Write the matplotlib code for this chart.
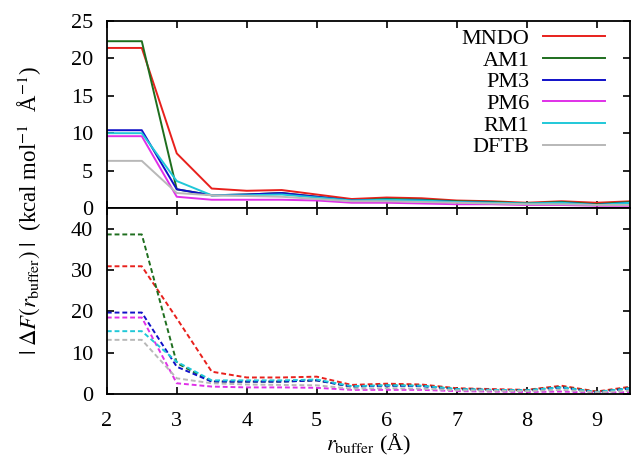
import matplotlib
matplotlib.use("Agg")
import matplotlib.pyplot as plt

plt.rcParams["font.family"] = ["Liberation Serif", "DejaVu Serif"]
plt.rcParams["mathtext.fontset"] = "stix"
plt.rcParams["font.size"] = 16

# r_buffer values (Å)
r_buffer = [2.0, 2.5, 3.0, 3.5, 4.0, 4.5, 5.0, 5.5, 6.0, 6.5, 7.0, 7.5, 8.0, 8.5, 9.0, 9.5]
metody = ["MNDO", "AM1", "PM3", "PM6", "RM1", "DFTB"]
barvy = ["#e8201c", "#1e6e1e", "#1010c8", "#e030e8", "#20c8d8", "#b8b8b8"]

# horní panel (plné čáry)
horni = {
    "MNDO": [21.4, 21.4, 7.3, 2.6, 2.3, 2.4, 1.8, 1.2, 1.4, 1.3, 1.0, 0.9, 0.7, 0.9, 0.7, 0.9],
    "AM1":  [22.3, 22.3, 2.5, 1.7, 1.8, 2.0, 1.5, 1.0, 1.2, 1.1, 0.9, 0.8, 0.6, 0.8, 0.5, 0.8],
    "PM3":  [10.4, 10.4, 2.5, 1.7, 1.8, 2.0, 1.5, 1.0, 1.1, 1.0, 0.8, 0.7, 0.5, 0.7, 0.4, 0.7],
    "PM6":  [9.6, 9.6, 1.5, 1.1, 1.1, 1.1, 1.0, 0.7, 0.7, 0.6, 0.5, 0.5, 0.4, 0.4, 0.3, 0.3],
    "RM1":  [10.0, 10.0, 3.6, 1.7, 1.7, 1.8, 1.4, 1.0, 1.1, 1.0, 0.8, 0.7, 0.6, 0.7, 0.4, 0.7],
    "DFTB": [6.3, 6.3, 2.0, 1.7, 1.6, 1.5, 1.2, 0.9, 0.9, 0.8, 0.7, 0.6, 0.5, 0.5, 0.4, 0.4],
}

# dolní panel (čárkované čáry)
dolni = {
    "MNDO": [30.9, 30.9, 18.3, 5.4, 4.0, 4.0, 4.2, 2.2, 2.5, 2.3, 1.4, 1.2, 1.0, 2.0, 0.6, 1.8],
    "AM1":  [38.6, 38.6, 7.5, 3.0, 3.0, 3.0, 3.3, 1.8, 2.1, 2.0, 1.2, 1.0, 0.9, 1.7, 0.5, 1.5],
    "PM3":  [19.7, 19.7, 6.6, 3.0, 3.0, 3.0, 3.3, 1.8, 2.0, 1.9, 1.1, 1.0, 0.8, 1.6, 0.4, 1.4],
    "PM6":  [18.5, 18.5, 2.6, 1.8, 1.6, 1.6, 1.5, 1.0, 1.0, 1.0, 0.7, 0.6, 0.5, 0.6, 0.3, 0.5],
    "RM1":  [15.2, 15.2, 7.8, 3.3, 3.3, 3.3, 3.5, 1.9, 2.1, 2.0, 1.2, 1.0, 0.9, 1.6, 0.5, 1.4],
    "DFTB": [13.1, 13.1, 3.8, 2.6, 2.3, 2.2, 2.1, 1.3, 1.4, 1.3, 0.9, 0.8, 0.7, 1.0, 0.4, 0.8],
}

fig = plt.figure(figsize=(6.32, 4.63), dpi=100)
ax1 = fig.add_axes([0.169, 0.5508, 0.828, 0.4038])
ax2 = fig.add_axes([0.169, 0.149, 0.828, 0.4018])

for m, c in zip(metody, barvy):
    ax1.plot(r_buffer, horni[m], color=c, lw=1.4, label=m)
    ax2.plot(r_buffer, dolni[m], color=c, lw=1.4, dashes=(2.5, 1.5))

for ax in (ax1, ax2):
    ax.set_xlim(2, 9.48)
    ax.set_xticks(range(2, 10))
    ax.tick_params(direction="in", top=True, right=True, length=5, width=1.2,
                   labelsize=16)
    ax.tick_params(axis="x", pad=13)
    ax.tick_params(axis="y", pad=10)
    for s in ax.spines.values():
        s.set_linewidth(1.3)

ax1.set_ylim(0, 25)
ax1.set_yticks([0, 5, 10, 15, 20, 25])
ax1.tick_params(labelbottom=False)
ax2.set_ylim(0, 45)
ax2.set_yticks([0, 10, 20, 30, 40])

ax1.legend(loc="upper right", bbox_to_anchor=(0.952, 0.96), frameon=False,
           markerfirst=False, handlelength=2.8, labelspacing=0.05, fontsize=16,
           borderaxespad=0, borderpad=0, handletextpad=0.6)

ax2.set_xlabel(r"$r_{\rm buffer}$ (Å)", fontsize=16, labelpad=1)
fig.text(0.047, 0.545, r"$|\;\Delta F(r_{\rm buffer})\;|$  (kcal mol$^{-1}$  Å$^{-1}$)",
         rotation=90, ha="center", va="center", fontsize=16.5)

fig.savefig("out.png", dpi=100)
